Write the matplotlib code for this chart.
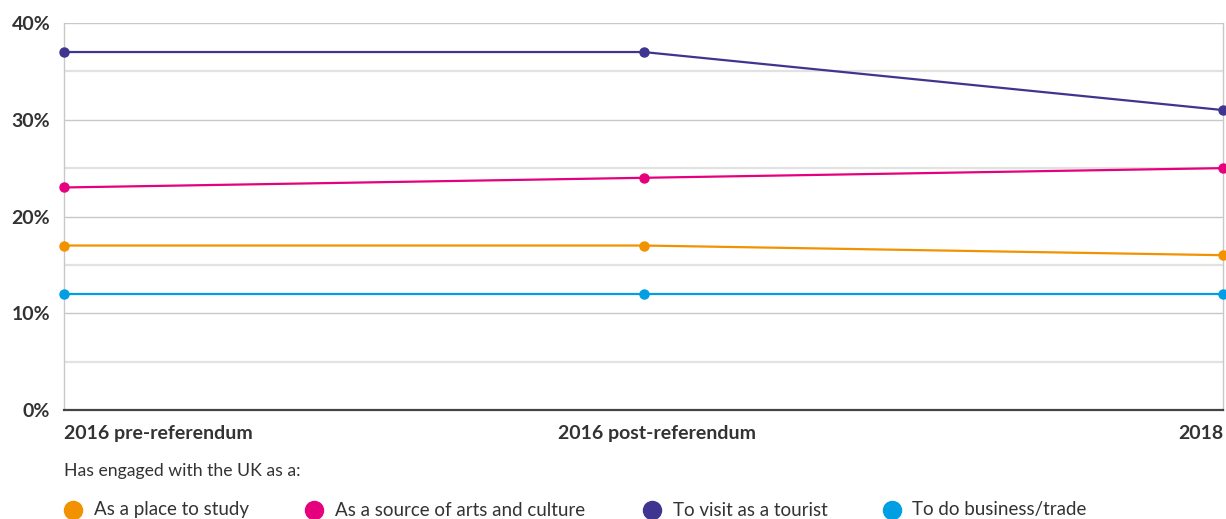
import matplotlib
matplotlib.use("Agg")
import matplotlib.pyplot as plt
from matplotlib.lines import Line2D
from matplotlib.transforms import ScaledTranslation

plt.rcParams['font.family'] = ['Lato', 'DejaVu Sans']

periods = ["2016 pre-referendum", "2016 post-referendum", "2018"]
series_names = ["As a place to study", "As a source of arts and culture",
                "To visit as a tourist", "To do business/trade"]
study = [17, 17, 16]
arts = [23, 24, 25]
tourist = [37, 37, 31]
business = [12, 12, 12]
yticks = [0, 10, 20, 30, 40]
ytick_labels = ["0%", "10%", "20%", "30%", "40%"]
legend_title = "Has engaged with the UK as a:"

colors = ["#f39200", "#e6007e", "#3f3590", "#009fe3"]
values = [study, arts, tourist, business]

W, H = 1226, 519
fig = plt.figure(figsize=(W / 100, H / 100), dpi=100)
left, right, top, bottom = 64, 1223, 23, 410
ax = fig.add_axes([left / W, 1 - bottom / H, (right - left) / W, (bottom - top) / H])

x = list(range(len(periods)))
for v in range(5, 41, 5):
    if v % 10 == 0:
        ax.axhline(v, color="#c8c8c8", lw=1.0, zorder=1)
    else:
        ax.axhline(v, color="#e2e2e2", lw=1.6, zorder=1)

order = [3, 0, 1, 2]
for i in order:
    ax.plot(x, values[i], color=colors[i], lw=1.6, marker='o', markersize=6.5,
            zorder=3, clip_on=False)

ax.set_xlim(0, 2)
ax.set_ylim(0, 40)
ax.spines["top"].set_visible(False)
for s in ["left", "right"]:
    ax.spines[s].set_color("#c8c8c8")
    ax.spines[s].set_linewidth(1.0)
ax.spines["bottom"].set_color("#444444")
ax.spines["bottom"].set_linewidth(1.6)

ax.set_yticks(yticks)
ax.set_yticklabels(ytick_labels, fontsize=14, fontweight='bold', color="#333333")
ax.tick_params(axis='y', length=0, pad=10)
ax.set_xticks(x)
ax.set_xticklabels(periods, fontsize=14, fontweight='bold', color="#333333")
ax.tick_params(axis='x', length=0, pad=11)
tl = ax.get_xticklabels()
tl[0].set_horizontalalignment('left')
tl[2].set_horizontalalignment('right')
tl[1].set_transform(tl[1].get_transform() + ScaledTranslation(14 / 100, 0, fig.dpi_scale_trans))

fig.text(64 / W, 1 - 471 / H, legend_title, fontsize=12.7, color="#333333",
         va='center', ha='left')

leg_circle_x = [73, 314, 652, 892]
leg_text_x = [94, 335, 673, 912]
ly = 1 - 510 / H
for i in range(4):
    fig.add_artist(Line2D([leg_circle_x[i] / W], [ly], marker='o', markersize=13,
                          color=colors[i], linestyle='none', transform=fig.transFigure))
    fig.text(leg_text_x[i] / W, ly, series_names[i], fontsize=13.5, color="#333333",
             va='center', ha='left')

fig.savefig("out.png", dpi=100)
